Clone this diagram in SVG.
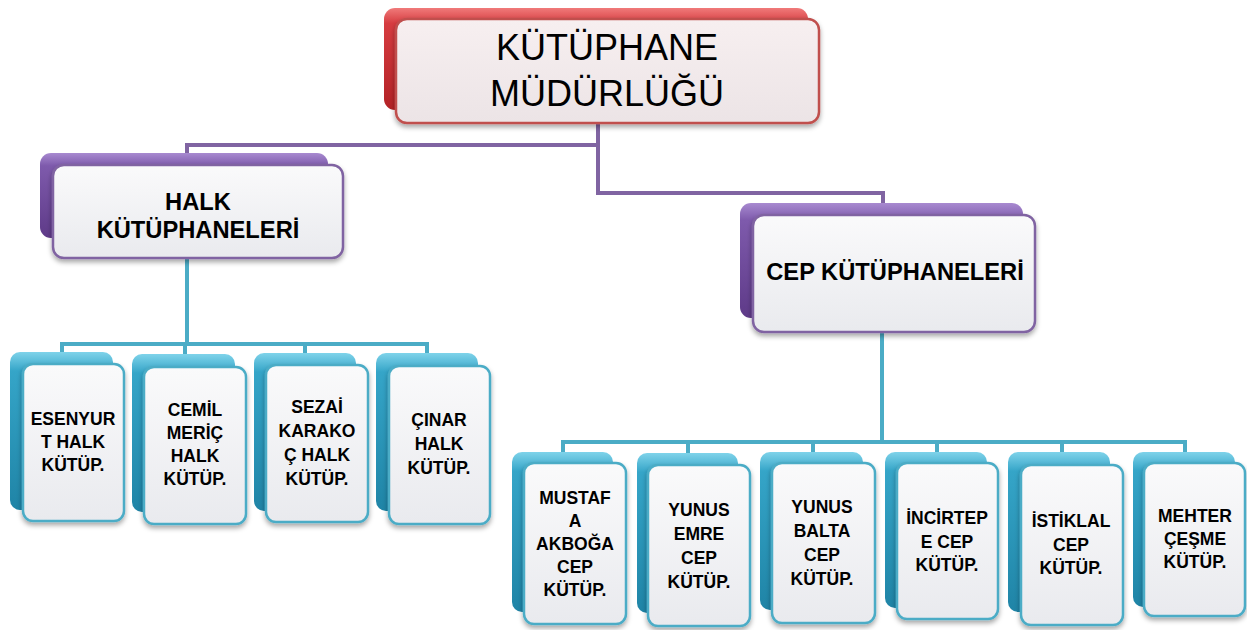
<svg xmlns="http://www.w3.org/2000/svg" width="1247" height="630" viewBox="0 0 1247 630">
<defs>
<linearGradient id="gRed" x1="0" y1="0" x2="0" y2="1">
<stop offset="0" stop-color="#f07a7a"/><stop offset="0.15" stop-color="#d63c40"/><stop offset="1" stop-color="#b32226"/>
</linearGradient>
<linearGradient id="gPur" x1="0" y1="0" x2="0" y2="1">
<stop offset="0" stop-color="#a88ad0"/><stop offset="0.15" stop-color="#7e5aac"/><stop offset="1" stop-color="#5e3a88"/>
</linearGradient>
<linearGradient id="gTeal" x1="0" y1="0" x2="0" y2="1">
<stop offset="0" stop-color="#7fd3ea"/><stop offset="0.12" stop-color="#35a5c8"/><stop offset="1" stop-color="#1f84a6"/>
</linearGradient>
<linearGradient id="gFront" x1="0" y1="0" x2="0" y2="1">
<stop offset="0" stop-color="#fafafb"/><stop offset="1" stop-color="#e9eaee"/>
</linearGradient>
<linearGradient id="gFrontRed" x1="0" y1="0" x2="0" y2="1">
<stop offset="0" stop-color="#f7eff0"/><stop offset="1" stop-color="#ece4e6"/>
</linearGradient>
<filter id="sh" x="-10%" y="-10%" width="130%" height="130%">
<feDropShadow dx="0" dy="3" stdDeviation="2.5" flood-color="#000" flood-opacity="0.35"/>
</filter>
</defs>
<style>
.conP{fill:none;stroke:#8064a2;stroke-width:4}
.conT{fill:none;stroke:#4bacc6;stroke-width:4}
.backR{fill:url(#gRed)}
.backP{fill:url(#gPur)}
.backT{fill:url(#gTeal)}
.frontR{fill:url(#gFrontRed);stroke:#c0504d;stroke-width:2.5;filter:url(#sh)}
.frontP{fill:url(#gFront);stroke:#8064a2;stroke-width:2.5;filter:url(#sh)}
.frontT{fill:url(#gFront);stroke:#4bacc6;stroke-width:2.5;filter:url(#sh)}
.t1{font-family:"Liberation Sans",Arial,sans-serif;font-size:36px;fill:#000;text-anchor:middle}
.t2{font-family:"Liberation Sans",Arial,sans-serif;font-size:23.7px;font-weight:bold;fill:#000;text-anchor:middle}
.t3{font-family:"Liberation Sans",Arial,sans-serif;font-size:17.5px;font-weight:bold;fill:#000;text-anchor:middle}
</style>
<rect width="1247" height="630" fill="#ffffff"/>
<g id="connectors">
<path class="conP" d="M598 122 V145 H187 V156"/>
<path class="conP" d="M598 145 V193 H883 V206"/>
<path class="conT" d="M187 256 V344 M62 355 V344 H427 V355 M185 344 V355 M305 344 V355"/>
<path class="conT" d="M882 330 V442 M563 455 V442 H1185 V455 M688 442 V455 M813 442 V455 M937 442 V455 M1062 442 V455"/>
</g>
<g id="n_root">
<rect class="backR" x="384" y="8" width="424" height="102" rx="11"/>
<rect class="frontR" x="396" y="19" width="423" height="104" rx="11"/>
<text class="t1" x="607" y="60">KÜTÜPHANE</text>
<text class="t1" x="607" y="106">MÜDÜRLÜĞÜ</text>
</g>
<g id="n_halk">
<rect class="backP" x="40" y="153" width="288" height="85" rx="11"/>
<rect class="frontP" x="53" y="165" width="290" height="93" rx="11"/>
<text class="t2" x="198" y="210">HALK</text>
<text class="t2" x="198" y="238">KÜTÜPHANELERİ</text>
</g>
<g id="n_cep">
<rect class="backP" x="740" y="203" width="283" height="115" rx="11"/>
<rect class="frontP" x="753" y="215" width="282" height="117" rx="11"/>
<text class="t2" x="895" y="280">CEP KÜTÜPHANELERİ</text>
</g>
<g id="n_esenyurt">
<rect class="backT" x="10" y="352" width="103" height="158" rx="10"/>
<rect class="frontT" x="23" y="364" width="101" height="157" rx="10"/>
<text class="t3" x="73" y="425">ESENYUR</text>
<text class="t3" x="73" y="448">T HALK</text>
<text class="t3" x="73" y="471">KÜTÜP.</text>
</g>
<g id="n_cemil">
<rect class="backT" x="132" y="354" width="103" height="158" rx="10"/>
<rect class="frontT" x="144" y="367" width="102" height="157" rx="10"/>
<text class="t3" x="195" y="416">CEMİL</text>
<text class="t3" x="195" y="439">MERİÇ</text>
<text class="t3" x="195" y="462">HALK</text>
<text class="t3" x="195" y="485">KÜTÜP.</text>
</g>
<g id="n_sezai">
<rect class="backT" x="254" y="353" width="102" height="158" rx="10"/>
<rect class="frontT" x="266" y="365" width="102" height="157" rx="10"/>
<text class="t3" x="317" y="413">SEZAİ</text>
<text class="t3" x="317" y="437">KARAKO</text>
<text class="t3" x="317" y="461">Ç HALK</text>
<text class="t3" x="317" y="485">KÜTÜP.</text>
</g>
<g id="n_cinar">
<rect class="backT" x="376" y="353" width="102" height="158" rx="10"/>
<rect class="frontT" x="389" y="366" width="101" height="158" rx="10"/>
<text class="t3" x="439" y="426">ÇINAR</text>
<text class="t3" x="439" y="450">HALK</text>
<text class="t3" x="439" y="474">KÜTÜP.</text>
</g>
<g id="n_mustafa">
<rect class="backT" x="512" y="452" width="101" height="160" rx="10"/>
<rect class="frontT" x="524" y="463" width="102" height="161" rx="10"/>
<text class="t3" x="575" y="504">MUSTAF</text>
<text class="t3" x="575" y="527">A</text>
<text class="t3" x="575" y="550">AKBOĞA</text>
<text class="t3" x="575" y="573">CEP</text>
<text class="t3" x="575" y="596">KÜTÜP.</text>
</g>
<g id="n_yunusemre">
<rect class="backT" x="637" y="453" width="101" height="160" rx="10"/>
<rect class="frontT" x="648" y="465" width="102" height="161" rx="10"/>
<text class="t3" x="699" y="516">YUNUS</text>
<text class="t3" x="699" y="540">EMRE</text>
<text class="t3" x="699" y="564">CEP</text>
<text class="t3" x="699" y="588">KÜTÜP.</text>
</g>
<g id="n_yunusbalta">
<rect class="backT" x="760" y="452" width="103" height="158" rx="10"/>
<rect class="frontT" x="772" y="463" width="103" height="160" rx="10"/>
<text class="t3" x="822" y="513">YUNUS</text>
<text class="t3" x="822" y="537">BALTA</text>
<text class="t3" x="822" y="561">CEP</text>
<text class="t3" x="822" y="585">KÜTÜP.</text>
</g>
<g id="n_incirtepe">
<rect class="backT" x="885" y="452" width="102" height="156" rx="10"/>
<rect class="frontT" x="897" y="463" width="101" height="156" rx="10"/>
<text class="t3" x="947" y="524">İNCİRTEP</text>
<text class="t3" x="947" y="548">E CEP</text>
<text class="t3" x="947" y="571">KÜTÜP.</text>
</g>
<g id="n_istiklal">
<rect class="backT" x="1008" y="452" width="102" height="160" rx="10"/>
<rect class="frontT" x="1021" y="465" width="102" height="160" rx="10"/>
<text class="t3" x="1071" y="527">İSTİKLAL</text>
<text class="t3" x="1071" y="551">CEP</text>
<text class="t3" x="1071" y="574">KÜTÜP.</text>
</g>
<g id="n_mehter">
<rect class="backT" x="1133" y="452" width="102" height="155" rx="10"/>
<rect class="frontT" x="1144" y="463" width="101" height="153" rx="10"/>
<text class="t3" x="1195" y="522">MEHTER</text>
<text class="t3" x="1195" y="545">ÇEŞME</text>
<text class="t3" x="1195" y="568">KÜTÜP.</text>
</g>
</svg>
